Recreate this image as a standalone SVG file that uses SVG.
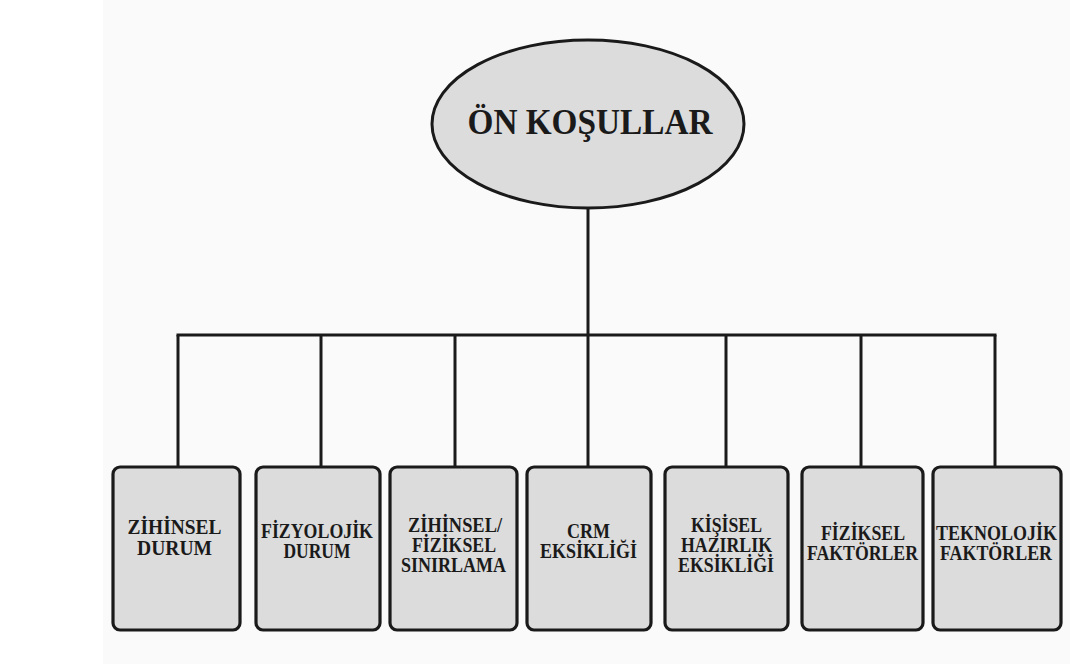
<svg xmlns="http://www.w3.org/2000/svg" width="1070" height="668" viewBox="0 0 1070 668">
<style>
.box{fill:#dcdcdc;stroke:#1a1a1a;stroke-width:3.2}
.lbl{font-family:"Liberation Serif","Times New Roman",serif;font-weight:bold;font-size:20px;fill:#1a1a1a;text-anchor:middle}
.con{stroke:#1a1a1a;stroke-width:3;fill:none}
</style>
<rect x="0" y="0" width="1070" height="668" fill="#ffffff"/>
<rect x="103" y="0" width="967" height="664" fill="#fafafa"/>
<g id="connectors">
<line class="con" x1="588" y1="207" x2="588" y2="335"/>
<line class="con" x1="176.5" y1="335" x2="996.5" y2="335"/>
<line class="con" x1="178" y1="335" x2="178" y2="467"/>
<line class="con" x1="321" y1="335" x2="321" y2="467"/>
<line class="con" x1="455" y1="335" x2="455" y2="467"/>
<line class="con" x1="588" y1="335" x2="588" y2="467"/>
<line class="con" x1="726" y1="335" x2="726" y2="467"/>
<line class="con" x1="861" y1="335" x2="861" y2="467"/>
<line class="con" x1="995" y1="335" x2="995" y2="467"/>
</g>
<g id="root">
<ellipse cx="588" cy="124" rx="156" ry="84" fill="#dcdcdc" stroke="#1a1a1a" stroke-width="3"/>
<text class="lbl" x="590" y="134" style="font-size:36px" textLength="245" lengthAdjust="spacingAndGlyphs">ÖN KOŞULLAR</text>
</g>
<g id="n1">
<rect class="box" x="113" y="467" width="127" height="163" rx="7"/>
<text class="lbl" x="174.5" y="534" textLength="94" lengthAdjust="spacingAndGlyphs">ZİHİNSEL</text>
<text class="lbl" x="174.5" y="555" textLength="75" lengthAdjust="spacingAndGlyphs">DURUM</text>
</g>
<g id="n2">
<rect class="box" x="256" y="467" width="124" height="163" rx="7"/>
<text class="lbl" x="317" y="538" textLength="112" lengthAdjust="spacingAndGlyphs">FİZYOLOJİK</text>
<text class="lbl" x="317" y="558" textLength="67" lengthAdjust="spacingAndGlyphs">DURUM</text>
</g>
<g id="n3">
<rect class="box" x="390" y="467" width="127" height="163" rx="7"/>
<text class="lbl" x="455" y="532" textLength="94" lengthAdjust="spacingAndGlyphs">ZİHİNSEL/</text>
<text class="lbl" x="454" y="552" textLength="84" lengthAdjust="spacingAndGlyphs">FİZİKSEL</text>
<text class="lbl" x="453.5" y="572" textLength="105" lengthAdjust="spacingAndGlyphs">SINIRLAMA</text>
</g>
<g id="n4">
<rect class="box" x="527" y="467" width="124" height="163" rx="7"/>
<text class="lbl" x="588.5" y="538" textLength="43" lengthAdjust="spacingAndGlyphs">CRM</text>
<text class="lbl" x="588.5" y="558" textLength="97" lengthAdjust="spacingAndGlyphs">EKSİKLİĞİ</text>
</g>
<g id="n5">
<rect class="box" x="665" y="467" width="123" height="163" rx="7"/>
<text class="lbl" x="726.5" y="532" textLength="71" lengthAdjust="spacingAndGlyphs">KİŞİSEL</text>
<text class="lbl" x="726.5" y="552" textLength="91" lengthAdjust="spacingAndGlyphs">HAZIRLIK</text>
<text class="lbl" x="726" y="572" textLength="96" lengthAdjust="spacingAndGlyphs">EKSİKLİĞİ</text>
</g>
<g id="n6">
<rect class="box" x="802" y="467" width="121" height="163" rx="7"/>
<text class="lbl" x="863" y="540" textLength="84" lengthAdjust="spacingAndGlyphs">FİZİKSEL</text>
<text class="lbl" x="862.5" y="560" textLength="111" lengthAdjust="spacingAndGlyphs">FAKTÖRLER</text>
</g>
<g id="n7">
<rect class="box" x="933" y="467" width="128" height="163" rx="7"/>
<text class="lbl" x="996.5" y="540" textLength="121" lengthAdjust="spacingAndGlyphs">TEKNOLOJİK</text>
<text class="lbl" x="996" y="560" textLength="112" lengthAdjust="spacingAndGlyphs">FAKTÖRLER</text>
</g>
</svg>
